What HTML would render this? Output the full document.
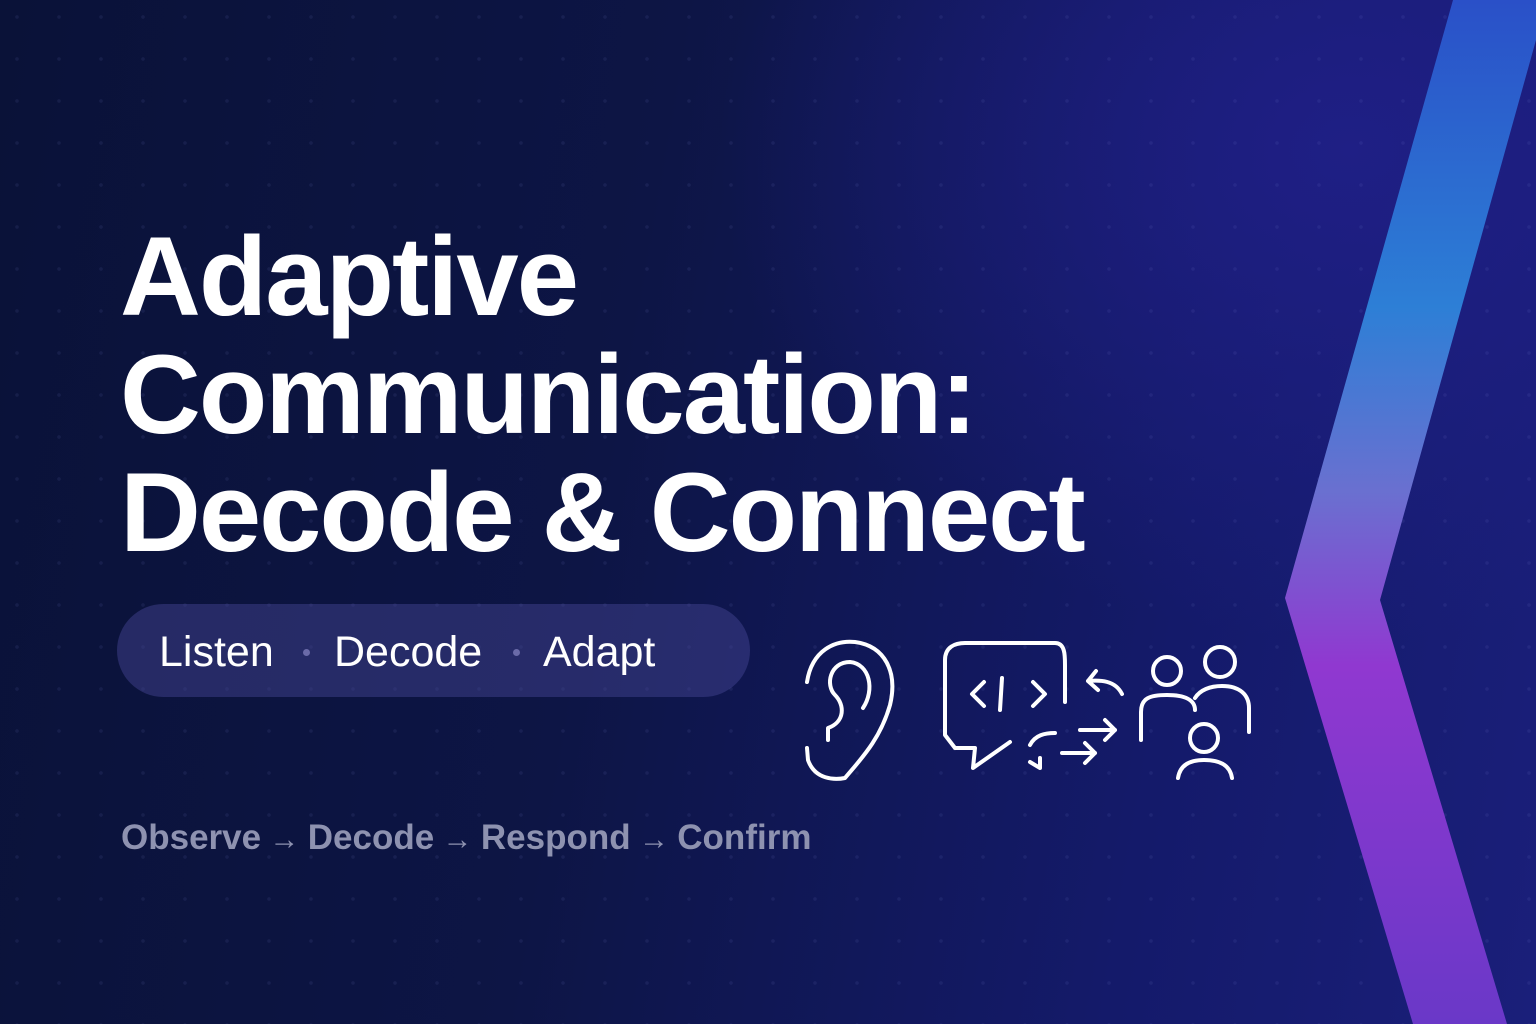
<!DOCTYPE html>
<html><head><meta charset="utf-8"><style>
html,body{margin:0;padding:0}
body{width:1536px;height:1024px;overflow:hidden;position:relative;font-family:"Liberation Sans",sans-serif;
background:radial-gradient(ellipse 900px 700px at 1350px 150px,#1f1f85 0%,rgba(25,25,110,0) 70%),linear-gradient(100deg,#0a1238 0%,#0d1545 40%,#141a6a 75%,#1a1f7a 100%);}
.dots{position:absolute;inset:0;background-image:radial-gradient(circle,rgba(140,150,230,.09) 1.6px,transparent 2px);background-size:42px 42px;background-position:-4px -4px}
h1{position:absolute;left:120px;top:218px;margin:0;color:#fff;font-size:112px;line-height:118px;font-weight:bold;letter-spacing:-2px}
.pill{position:absolute;left:117px;top:604px;width:633px;height:93px;border-radius:47px;background:rgba(70,70,150,.45)}
.pill span{position:absolute;top:24px;color:#fff;font-size:43px}
.pill i{position:absolute;top:45px;width:7px;height:7px;border-radius:50%;background:#6a6aa8}
.flow{position:absolute;left:121px;top:818px;color:#8e92b0;font-size:35px;font-weight:bold;white-space:pre}
.flow b{font-weight:normal;font-size:30px}
</style></head><body>
<div class="dots"></div>
<svg width="1536" height="1024" style="position:absolute;left:0;top:0">
<defs><linearGradient id="g" x1="0" y1="0" x2="0" y2="1">
<stop offset="0" stop-color="#2a50c8"/><stop offset=".3" stop-color="#2d7fd6"/><stop offset=".48" stop-color="#6a70d0"/><stop offset=".65" stop-color="#9038d0"/><stop offset="1" stop-color="#6a38c8"/></linearGradient></defs>
<polygon points="1453,0 1536,0 1536,40 1380,600 1507,1024 1413,1024 1285,598" fill="url(#g)"/>
<g fill="none" stroke="#fff" stroke-width="4" stroke-linecap="round" stroke-linejoin="round">
<path d="M807,682 C812,650 835,640 855,642 C885,646 898,672 890,705 C880,740 860,760 845,778 C835,780 815,780 808,760 L807,748"/>
<path d="M863,708 C875,690 870,664 850,662 C830,662 825,685 835,695 C845,705 845,722 828,728 L828,740"/>
<path d="M955,748 L945,735 L945,660 C945,647 955,643 965,643 L1055,643 C1065,643 1065,655 1065,665 L1065,702 M955,748 L975,748 L973,768 L1010,742"/>
<path d="M984,682 L972,694 L984,706 M1002,678 L1000,710 M1033,682 L1045,694 L1033,706"/>
<path d="M1122,694 C1115,680 1100,680 1088,681 M1096,671 L1088,681 L1098,690"/>
<path d="M1080,730 L1115,730 M1105,720 L1115,730 L1105,740 M1062,753 L1095,753 M1085,743 L1095,753 L1085,763"/>
<path d="M1055,733 C1045,733 1035,735 1030,745 M1040,758 L1040,768 L1030,762"/>
<circle cx="1167" cy="671" r="14"/><path d="M1141,740 L1141,712 C1141,698 1150,695 1167,695 C1185,695 1195,700 1195,710"/>
<circle cx="1220" cy="662" r="15"/><path d="M1195,698 C1200,690 1210,686 1222,686 C1240,686 1249,695 1249,708 L1249,732"/>
<circle cx="1204" cy="738" r="14"/><path d="M1178,778 C1180,765 1190,760 1204,760 C1220,760 1230,765 1232,778"/>
</g></svg>
<h1>Adaptive<br>Communication:<br>Decode &amp; Connect</h1>
<div class="pill"><span style="left:42px">Listen</span><i style="left:186px"></i><span style="left:217px">Decode</span><i style="left:396px"></i><span style="left:426px">Adapt</span></div>
<div class="flow">Observe<b> → </b>Decode<b> → </b>Respond<b> → </b>Confirm</div>
</body></html>
